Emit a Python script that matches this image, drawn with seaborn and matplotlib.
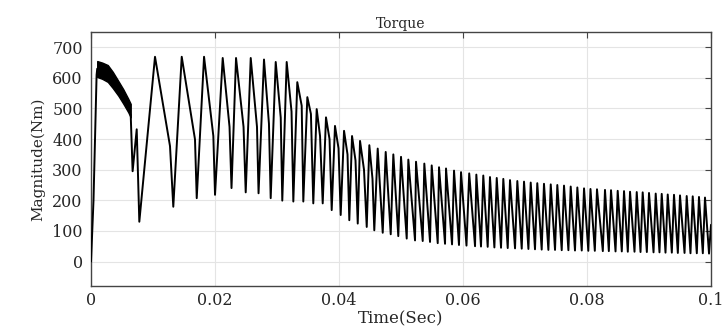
import numpy as np
import pandas as pd
import matplotlib
matplotlib.use("Agg")
import matplotlib.pyplot as plt
import seaborn as sns

# ---------------- data ----------------
# start-up rise
start_t = [0.0, 0.0004, 0.0009, 0.0010]
start_v = [0, 200, 610, 630]

# ripple band right after start-up (upper / lower envelope)
band_t = [0.0010, 0.0018, 0.0027, 0.0035, 0.0044, 0.0052, 0.0060, 0.0064]
band_hi = [655, 650, 642, 620, 590, 563, 532, 515]
band_lo = [603, 597, 587, 567, 542, 516, 488, 471]

# transient between band and first big trough
trans_t = [0.0064, 0.00671, 0.00737]
trans_v = [480, 295, 432]

# oscillation peaks
peak_t = [0.01032, 0.01463, 0.01823, 0.02124, 0.02339, 0.02576, 0.02790, 0.02979, 0.03156, 0.03327,
          0.03489, 0.03640, 0.03790, 0.03935, 0.04081, 0.04210, 0.04339, 0.04489, 0.04624, 0.04753,
          0.04876, 0.05000, 0.05118, 0.05242, 0.05376, 0.05495, 0.05613, 0.05726, 0.05855, 0.05968,
          0.06100, 0.06215, 0.06327, 0.06435, 0.06544, 0.06650, 0.06758, 0.06876, 0.06984, 0.07092,
          0.07198, 0.07306, 0.07415, 0.07521, 0.07629, 0.07737, 0.07844, 0.07952, 0.08056, 0.08161,
          0.08290, 0.08387, 0.08495, 0.08597, 0.08694, 0.08802, 0.08898, 0.09000, 0.09108, 0.09205,
          0.09302, 0.09403, 0.09500, 0.09608, 0.09705, 0.09806, 0.09903]
peak_v = [669, 669, 669, 665, 665, 665, 660, 652, 652, 586,
          537, 498, 471, 443, 427, 410, 394, 380, 369, 358,
          350, 342, 333, 326, 320, 314, 308, 304, 297, 292,
          288, 284, 281, 276, 273, 270, 266, 263, 261, 258,
          256, 254, 252, 250, 248, 245, 242, 239, 237, 236,
          234, 233, 231, 230, 228, 227, 226, 224, 222, 221,
          219, 218, 216, 214, 213, 211, 209]

# oscillation troughs
trough_t = [0.00779, 0.01327, 0.01705, 0.02000, 0.02266, 0.02495, 0.02702, 0.02898, 0.03085, 0.03263,
            0.03424, 0.03585, 0.03737, 0.03882, 0.04027, 0.04166, 0.04302, 0.04447, 0.04569, 0.04705,
            0.04834, 0.04956, 0.05092, 0.05226, 0.05350, 0.05468, 0.05592, 0.05710, 0.05823, 0.05935,
            0.06056, 0.06194, 0.06290, 0.06398, 0.06506, 0.06613, 0.06721, 0.06839, 0.06947, 0.07055,
            0.07161, 0.07269, 0.07377, 0.07484, 0.07592, 0.07700, 0.07806, 0.07915, 0.08021, 0.08126,
            0.08255, 0.08352, 0.08460, 0.08561, 0.08658, 0.08766, 0.08863, 0.08965, 0.09073, 0.09169,
            0.09266, 0.09368, 0.09465, 0.09573, 0.09669, 0.09771, 0.09868, 0.09968]
trough_v = [130, 179, 207, 218, 240, 226, 223, 207, 199, 196,
            196, 190, 190, 168, 152, 135, 124, 113, 102, 94,
            89, 83, 75, 69, 67, 64, 60, 58, 56, 54,
            52, 50, 49, 48, 46, 45, 44, 43, 42, 41,
            40, 39, 38, 38, 37, 37, 36, 36, 35, 35,
            34, 34, 33, 33, 32, 32, 31, 31, 30, 30,
            29, 29, 28, 28, 27, 27, 27, 26]

# shoulders on the falling edge of the early cycles
knee_t = [0.01274, 0.01677, 0.01973, 0.02234, 0.02460, 0.02677, 0.02870, 0.03060, 0.03234,
          0.03398, 0.03547, 0.03694, 0.03847, 0.03992, 0.04137, 0.04266, 0.04403, 0.04540]
knee_v = [377, 399, 410, 440, 440, 440, 450, 470, 490,
          509, 482, 410, 400, 370, 350, 330, 300, 270]

end_t = [0.1]
end_v = [120]

# ---------------- build the curve ----------------
df_start = pd.DataFrame({"Time": start_t, "Torque": start_v})
t_all = trans_t + peak_t + trough_t + knee_t + end_t
v_all = trans_v + peak_v + trough_v + knee_v + end_v
df = pd.DataFrame({"Time": t_all, "Torque": v_all}).sort_values("Time").reset_index(drop=True)

sns.set_theme(style="whitegrid")
plt.rcParams["font.family"] = ["DejaVu Serif"]

fig = plt.figure(figsize=(7.27, 3.36), dpi=100)
ax = fig.add_axes([0.1252, 0.1488, 0.8528, 0.756])
ax.set_facecolor("white")

ax.fill_between(band_t, band_lo, band_hi, color="black", lw=1.0, edgecolor="black", zorder=3)
sns.lineplot(data=df_start, x="Time", y="Torque", ax=ax, color="black", lw=1.4,
             sort=False, estimator=None, zorder=4)
sns.lineplot(data=df, x="Time", y="Torque", ax=ax, color="black", lw=1.4,
             sort=False, estimator=None, zorder=4)

ax.set_xlim(0, 0.1)
ax.set_ylim(-80, 750)
ax.set_xticks([0, 0.02, 0.04, 0.06, 0.08, 0.1])
ax.set_xticklabels(["0", "0.02", "0.04", "0.06", "0.08", "0.1"])
ax.set_yticks(list(range(0, 800, 100)))
ax.set_yticklabels([str(v) for v in range(0, 800, 100)])

ax.grid(True, color="#e4e4e4", lw=0.8)
for s in ax.spines.values():
    s.set_color("#444444")
    s.set_linewidth(1.0)
ax.tick_params(direction="in", top=True, right=True, length=4, width=0.8,
               color="#444444", labelsize=11.5, labelcolor="#262626")
ax.tick_params(axis="y", pad=6)
ax.tick_params(axis="x", pad=4)

ax.set_title("Torque", fontsize=10, color="#262626", pad=3)
ax.set_xlabel("Time(Sec)", fontsize=12, color="#262626", labelpad=1)
ax.set_ylabel("Magnitude(Nm)", fontsize=11, color="#262626", labelpad=5)

fig.savefig("out.png", dpi=100)
